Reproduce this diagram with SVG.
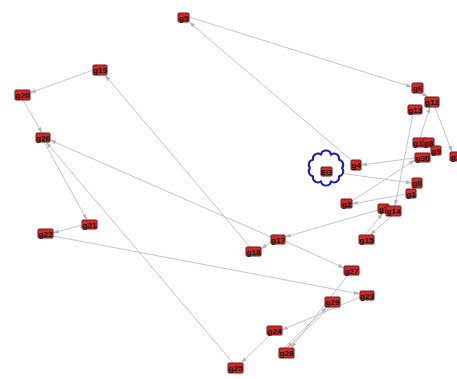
<svg xmlns="http://www.w3.org/2000/svg" width="457" height="379" viewBox="0 0 457 379">
  <style>
    .edge { stroke: #c6c6c6; stroke-width: 1; fill: none; marker-end: url(#arrow); }
    .box { fill: #cc2b2b; stroke: #7e1515; stroke-width: 1; }
    .lbl { font-family: "Liberation Sans", Arial, sans-serif; font-size: 8px; font-weight: bold; fill: #111; text-anchor: middle; }
    .cloud { fill: #ffffff; stroke: #1c20a8; stroke-width: 2; stroke-linejoin: round; }
  </style>
  <defs>
    <marker id="arrow" viewBox="0 0 6 4" refX="6" refY="2" markerWidth="6" markerHeight="4" markerUnits="userSpaceOnUse" orient="auto">
      <path d="M0,0 L6,2 L0,4 Z" fill="#b4b4b4"/>
    </marker>
  </defs>
  <rect width="457" height="379" fill="#ffffff"/>

  <!-- connectors -->
  <g id="edges">
    <line class="edge" x1="351" y1="160" x2="189" y2="22"/>
    <line class="edge" x1="189" y1="17" x2="412" y2="87"/>
    <line class="edge" x1="421" y1="93" x2="428" y2="97"/>
    <line class="edge" x1="420" y1="138" x2="430" y2="107"/>
    <line class="edge" x1="435" y1="107" x2="452" y2="152"/>
    <line class="edge" x1="413" y1="114" x2="395" y2="206"/>
    <line class="edge" x1="415" y1="158" x2="361" y2="165"/>
    <line class="edge" x1="352" y1="201" x2="415" y2="160"/>
    <line class="edge" x1="406" y1="194" x2="352" y2="204"/>
    <line class="edge" x1="332" y1="172" x2="412" y2="183"/>
    <line class="edge" x1="392" y1="216" x2="370" y2="235"/>
    <line class="edge" x1="365" y1="235" x2="383" y2="213"/>
    <line class="edge" x1="378" y1="210" x2="285" y2="237"/>
    <line class="edge" x1="271" y1="237" x2="50" y2="140"/>
    <line class="edge" x1="23" y1="100" x2="42" y2="133"/>
    <line class="edge" x1="93" y1="70" x2="30" y2="93"/>
    <line class="edge" x1="250" y1="247" x2="105" y2="75"/>
    <line class="edge" x1="271" y1="242" x2="261" y2="249"/>
    <line class="edge" x1="285" y1="241" x2="344" y2="268"/>
    <line class="edge" x1="44" y1="142" x2="87" y2="220"/>
    <line class="edge" x1="233" y1="363" x2="46" y2="142"/>
    <line class="edge" x1="82" y1="225" x2="53" y2="233"/>
    <line class="edge" x1="53" y1="236" x2="360" y2="294"/>
    <line class="edge" x1="360" y1="297" x2="282" y2="330"/>
    <line class="edge" x1="270" y1="335" x2="241" y2="363"/>
    <line class="edge" x1="348" y1="275" x2="291" y2="348"/>
    <line class="edge" x1="330" y1="307" x2="287" y2="348"/>
    <line class="edge" x1="284" y1="348" x2="327" y2="307"/>
  </g>

  <!-- cloud node -->
  <g id="EG">
    <path class="cloud" d="M342,168 A5,5 0 0 1 338.94,176.23 A5,5 0 0 1 330.94,181.31 A5,5 0 0 1 321.06,181.31 A5,5 0 0 1 313.06,176.23 A5,5 0 0 1 310,168 A5,5 0 0 1 313.06,159.77 A5,5 0 0 1 321.06,154.69 A5,5 0 0 1 330.94,154.69 A5,5 0 0 1 338.94,159.77 A5,5 0 0 1 342,168 Z"/>
    <rect class="box" x="321" y="167" width="11" height="9" rx="1"/>
    <text class="lbl" x="326.5" y="174.5">EG</text>
  </g>

  <!-- nodes -->
  <g id="g5"><rect class="box" x="178" y="13" width="11" height="9" rx="1"/><text class="lbl" x="183.5" y="20.5">g5</text></g>
  <g id="g19"><rect class="box" x="93" y="65" width="14" height="10" rx="1"/><text class="lbl" x="100" y="73">g19</text></g>
  <g id="g20"><rect class="box" x="15" y="90" width="15" height="10" rx="1"/><text class="lbl" x="22.5" y="98">g20</text></g>
  <g id="g26"><rect class="box" x="36" y="133" width="14" height="9" rx="1"/><text class="lbl" x="43" y="140.5">g26</text></g>
  <g id="g21"><rect class="box" x="82" y="220" width="15" height="9" rx="1"/><text class="lbl" x="89.5" y="227.5">g21</text></g>
  <g id="g22"><rect class="box" x="38" y="229" width="15" height="9" rx="1"/><text class="lbl" x="45.5" y="236.5">g22</text></g>
  <g id="g6"><rect class="box" x="412" y="83" width="11" height="10" rx="1"/><text class="lbl" x="417.5" y="91">g6</text></g>
  <g id="g12"><rect class="box" x="425" y="97" width="14" height="10" rx="1"/><text class="lbl" x="432" y="105">g12</text></g>
  <g id="g13"><rect class="box" x="408" y="105" width="14" height="9" rx="1"/><text class="lbl" x="415" y="112.5">g13</text></g>
  <g id="g16"><rect class="box" x="413" y="138" width="14" height="9" rx="1"/><text class="lbl" x="420" y="145.5">g16</text></g>
  <g id="g8"><rect class="box" x="423" y="138" width="11" height="9" rx="1"/><text class="lbl" x="428.5" y="145.5">g8</text></g>
  <g id="g9"><rect class="box" x="431" y="146" width="10" height="9" rx="1"/><text class="lbl" x="436" y="153.5">g9</text></g>
  <g id="g11"><rect class="box" x="450" y="152" width="15" height="9" rx="1"/><text class="lbl" x="457.5" y="159.5">g11</text></g>
  <g id="g30"><rect class="box" x="415" y="153" width="15" height="9" rx="1"/><text class="lbl" x="422.5" y="160.5">g30</text></g>
  <g id="g4"><rect class="box" x="351" y="160" width="10" height="10" rx="1"/><text class="lbl" x="356" y="168">g4</text></g>
  <g id="g0"><rect class="box" x="412" y="178" width="10" height="10" rx="1"/><text class="lbl" x="417" y="186">g0</text></g>
  <g id="g1"><rect class="box" x="406" y="189" width="10" height="9" rx="1"/><text class="lbl" x="411" y="196.5">g1</text></g>
  <g id="g2"><rect class="box" x="341" y="199" width="11" height="9" rx="1"/><text class="lbl" x="346.5" y="206.5">g2</text></g>
  <g id="g7"><rect class="box" x="378" y="204" width="11" height="9" rx="1"/><text class="lbl" x="383.5" y="211.5">g7</text></g>
  <g id="g14"><rect class="box" x="386" y="206" width="15" height="10" rx="1"/><text class="lbl" x="393.5" y="214">g14</text></g>
  <g id="g15"><rect class="box" x="359" y="235" width="15" height="9" rx="1"/><text class="lbl" x="366.5" y="242.5">g15</text></g>
  <g id="g17"><rect class="box" x="271" y="235" width="14" height="9" rx="1"/><text class="lbl" x="278" y="242.5">g17</text></g>
  <g id="g18"><rect class="box" x="246" y="247" width="15" height="9" rx="1"/><text class="lbl" x="253.5" y="254.5">g18</text></g>
  <g id="g27"><rect class="box" x="344" y="266" width="15" height="9" rx="1"/><text class="lbl" x="351.5" y="273.5">g27</text></g>
  <g id="g23"><rect class="box" x="360" y="291" width="14" height="9" rx="1"/><text class="lbl" x="367" y="298.5">g23</text></g>
  <g id="g29"><rect class="box" x="325" y="297" width="15" height="10" rx="1"/><text class="lbl" x="332.5" y="305">g29</text></g>
  <g id="g24"><rect class="box" x="267" y="326" width="15" height="9" rx="1"/><text class="lbl" x="274.5" y="333.5">g24</text></g>
  <g id="g28"><rect class="box" x="279" y="348" width="15" height="10" rx="1"/><text class="lbl" x="286.5" y="356">g28</text></g>
  <g id="g25"><rect class="box" x="228" y="363" width="15" height="10" rx="1"/><text class="lbl" x="235.5" y="371">g25</text></g>
</svg>
